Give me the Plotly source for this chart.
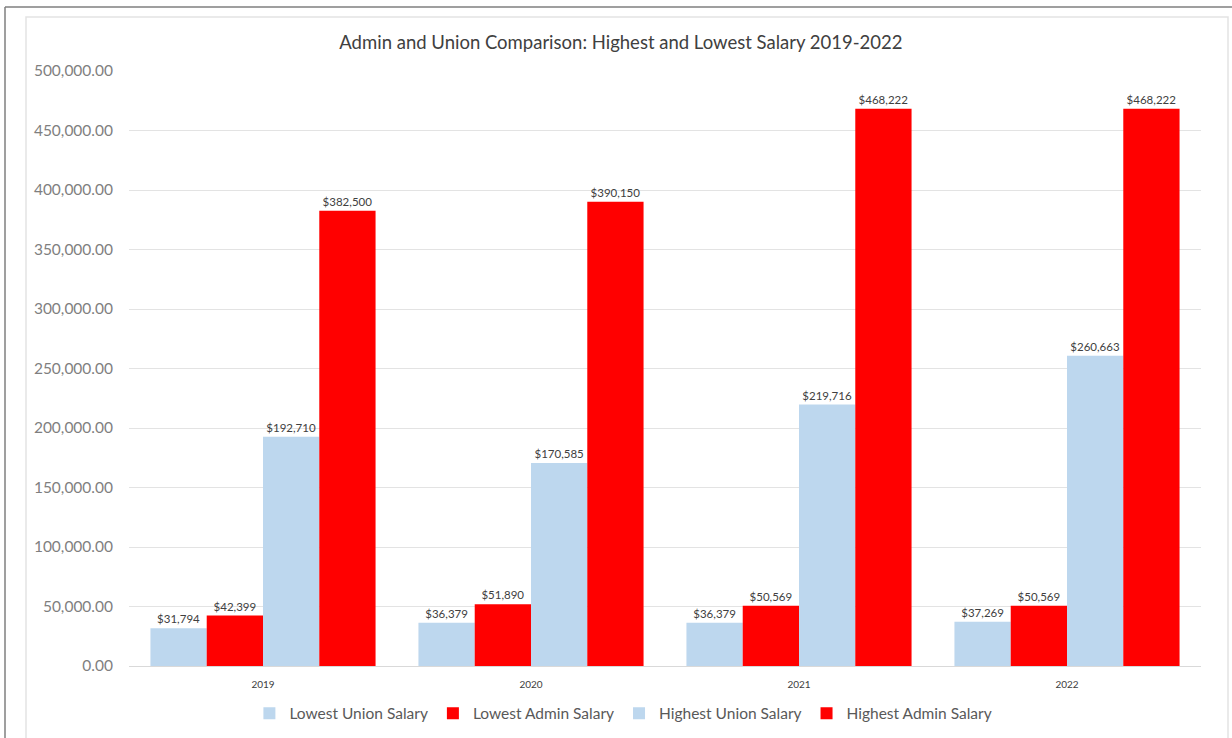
import plotly.graph_objects as go

years = ["2019", "2020", "2021", "2022"]
lowest_union = [31794, 36379, 36379, 37269]
lowest_admin = [42399, 51890, 50569, 50569]
highest_union = [192710, 170585, 219716, 260663]
highest_admin = [382500, 390150, 468222, 468222]

series = [
    ("Lowest Union Salary", lowest_union, "#BDD7EE"),
    ("Lowest Admin Salary", lowest_admin, "#FF0000"),
    ("Highest Union Salary", highest_union, "#BDD7EE"),
    ("Highest Admin Salary", highest_admin, "#FF0000"),
]

FONT = "Lato, Open Sans, sans-serif"

fig = go.Figure()
for name, vals, color in series:
    fig.add_trace(go.Bar(
        name=name, x=years, y=vals,
        marker=dict(color=color, line=dict(width=0)),
        text=[f"${v:,}" for v in vals],
        textposition="outside",
        textfont=dict(size=11.5, color="#404040", family=FONT),
        cliponaxis=False,
    ))

fig.update_layout(
    width=1232, height=738,
    margin=dict(l=129, r=31, t=71, b=72, autoexpand=False),
    paper_bgcolor="white", plot_bgcolor="white",
    barmode="group", bargap=0.16, bargroupgap=0,
    font=dict(family=FONT, color="#595959"),
    title=dict(text="Admin and Union Comparison: Highest and Lowest Salary 2019-2022",
               x=0.504, xref="container", xanchor="center",
               y=0.943, yref="container", yanchor="middle",
               font=dict(size=18.5, color="#404040", family=FONT)),
    showlegend=True,
    legend=dict(orientation="h", x=0.506, xanchor="center", xref="container",
                y=0.033, yref="container", yanchor="middle",
                font=dict(size=15.5, color="#595959", family=FONT),
                itemwidth=30, traceorder="normal"),
)
fig.update_yaxes(range=[0, 500000], dtick=50000, tickformat=",.2f",
                 showgrid=True, gridcolor="#E3E3E3", gridwidth=1,
                 zeroline=False, showline=False, automargin=False,
                 tickfont=dict(size=15.5, color="#7F7F7F", family=FONT),
                 ticks="", ticklabelstandoff=15)
fig.update_xaxes(showline=True, linecolor="#D9D9D9", linewidth=1, automargin=False,
                 tickfont=dict(size=10, color="#404040", family=FONT),
                 ticks="", ticklabelstandoff=9)

# frames
fig.add_shape(type="line", xref="paper", yref="paper", x0=-124/1072, x1=1.05, y0=(666-7)/595, y1=(666-7)/595,
              line=dict(color="#7F7F7F", width=1.5))
fig.add_shape(type="line", xref="paper", yref="paper", x0=-124/1072, x1=-124/1072, y0=(666-7)/595, y1=-72/595,
              line=dict(color="#7F7F7F", width=1.5))
fig.add_shape(type="rect", xref="paper", yref="paper", x0=-103/1072, x1=(1228-129)/1072,
              y0=-80/595, y1=(666-17)/595,
              line=dict(color="#E3E3E3", width=1.5))

fig.write_html("out.html")
